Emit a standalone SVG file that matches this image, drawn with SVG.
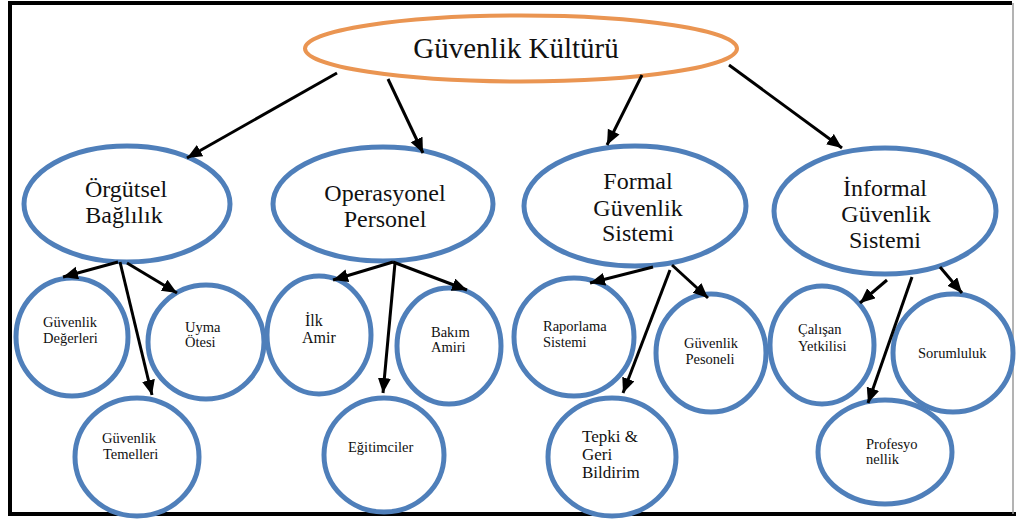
<svg xmlns="http://www.w3.org/2000/svg" width="1016" height="520" viewBox="0 0 1016 520">
  <style>
    .root { fill: #ffffff; stroke: #EA9552; stroke-width: 4; }
    .node { fill: #ffffff; stroke: #4F7FBA; stroke-width: 5; }
    text { font-family: "Times New Roman", Times, "Liberation Serif", "Noto Serif", "DejaVu Serif", serif; fill: #111111; }
    .big { font-size: 24px; text-anchor: middle; }
    .small { font-size: 14.5px; }
    .mid { text-anchor: middle; }
    .arrow { stroke: #000000; stroke-width: 3; fill: none; marker-end: url(#head); }
    .frame { stroke: #000000; stroke-width: 4; fill: none; }
  </style>
  <defs>
    <marker id="head" markerUnits="userSpaceOnUse" markerWidth="16" markerHeight="14" refX="15" refY="6.5" orient="auto">
      <path d="M0,0 L15,6.5 L0,13 z" fill="#000000"/>
    </marker>
  </defs>

  <rect width="1016" height="520" fill="#ffffff"/>

  <!-- outer frame -->
  <g id="frame">
    <path class="frame" d="M1012,3 L10,3 L10,514 L1016,514"/>
    <line x1="1013" y1="3" x2="1013" y2="514" stroke="#9a9a9a" stroke-width="1.5"/>
  </g>

  <!-- root -->
  <g id="guvenlik-kulturu">
    <ellipse class="root" cx="521" cy="48.5" rx="216" ry="33"/>
    <text class="mid" x="516" y="58" font-size="29">Güvenlik Kültürü</text>
  </g>

  <!-- second level -->
  <g id="orgutsel-baglilik">
    <ellipse class="node" cx="127" cy="204" rx="103" ry="58"/>
    <text class="big" x="126" y="197">Örgütsel</text>
    <text class="big" x="124" y="223">Bağlılık</text>
  </g>
  <g id="operasyonel-personel">
    <ellipse class="node" cx="383" cy="204" rx="110" ry="57"/>
    <text class="big" x="385" y="201">Operasyonel</text>
    <text class="big" x="385" y="227">Personel</text>
  </g>
  <g id="formal-guvenlik-sistemi">
    <ellipse class="node" cx="635" cy="206" rx="111" ry="60"/>
    <text class="big" x="638" y="189">Formal</text>
    <text class="big" x="638" y="216">Güvenlik</text>
    <text class="big" x="638" y="241">Sistemi</text>
  </g>
  <g id="informal-guvenlik-sistemi">
    <ellipse class="node" cx="885" cy="211" rx="111" ry="63"/>
    <text class="big" x="885" y="196">İnformal</text>
    <text class="big" x="886" y="222">Güvenlik</text>
    <text class="big" x="885" y="248">Sistemi</text>
  </g>

  <!-- third level -->
  <g id="guvenlik-degerleri">
    <ellipse class="node" cx="72" cy="337" rx="56" ry="59"/>
    <text class="small" x="43" y="327">Güvenlik</text>
    <text class="small" x="43" y="343">Değerleri</text>
  </g>
  <g id="uyma-otesi">
    <ellipse class="node" cx="206" cy="342" rx="58" ry="57"/>
    <text class="small" x="185" y="332">Uyma</text>
    <text class="small" x="185" y="347">Ötesi</text>
  </g>
  <g id="guvenlik-temelleri">
    <ellipse class="node" cx="137" cy="457" rx="62" ry="59"/>
    <text class="small" x="102" y="443">Güvenlik</text>
    <text class="small" x="103" y="459">Temelleri</text>
  </g>
  <g id="ilk-amir">
    <ellipse class="node" cx="319" cy="335" rx="52" ry="59"/>
    <text x="305" y="326" font-size="16">İlk</text>
    <text x="302" y="343" font-size="16">Amir</text>
  </g>
  <g id="bakim-amiri">
    <ellipse class="node" cx="449" cy="346" rx="52" ry="58"/>
    <text class="small" x="431" y="337">Bakım</text>
    <text class="small" x="431" y="352">Amiri</text>
  </g>
  <g id="egitimciler">
    <ellipse class="node" cx="384" cy="455" rx="60" ry="57"/>
    <text class="small" x="348" y="452">Eğitimciler</text>
  </g>
  <g id="raporlama-sistemi">
    <ellipse class="node" cx="574" cy="337" rx="60" ry="59"/>
    <text class="small" x="543" y="331">Raporlama</text>
    <text class="small" x="543" y="347">Sistemi</text>
  </g>
  <g id="guvenlik-pesoneli">
    <ellipse class="node" cx="711" cy="353" rx="55" ry="59"/>
    <text class="small mid" x="711" y="348">Güvenlik</text>
    <text class="small mid" x="710" y="364">Pesoneli</text>
  </g>
  <g id="tepki-geri-bildirim">
    <ellipse class="node" cx="612" cy="457" rx="64" ry="59"/>
    <text x="582" y="442" font-size="17">Tepki &amp;</text>
    <text x="582" y="460" font-size="17">Geri</text>
    <text x="582" y="478" font-size="17">Bildirim</text>
  </g>
  <g id="calisan-yetkilisi">
    <ellipse class="node" cx="822" cy="345" rx="52" ry="59"/>
    <text class="small" x="798" y="334">Çalışan</text>
    <text class="small" x="798" y="351">Yetkilisi</text>
  </g>
  <g id="sorumluluk">
    <ellipse class="node" cx="953" cy="353" rx="60" ry="59"/>
    <text class="small" x="918" y="358">Sorumluluk</text>
  </g>
  <g id="profesyonellik">
    <ellipse class="node" cx="885" cy="452" rx="67" ry="52"/>
    <text class="small" x="866" y="449">Profesyo</text>
    <text class="small" x="866" y="464">nellik</text>
  </g>

  <!-- connectors -->
  <g id="connectors">
    <line class="arrow" x1="337" y1="73" x2="187" y2="158"/>
    <line class="arrow" x1="388" y1="79" x2="423" y2="153"/>
    <line class="arrow" x1="642" y1="75" x2="607" y2="145"/>
    <line class="arrow" x1="729" y1="65" x2="842" y2="148"/>

    <line class="arrow" x1="118" y1="262" x2="63" y2="277"/>
    <line class="arrow" x1="127" y1="263" x2="177" y2="293" stroke-width="2"/>
    <line class="arrow" x1="120" y1="262" x2="152" y2="395"/>

    <line class="arrow" x1="393" y1="262" x2="333" y2="280"/>
    <line class="arrow" x1="393" y1="262" x2="467" y2="290"/>
    <line class="arrow" x1="395" y1="263" x2="383" y2="393"/>

    <line class="arrow" x1="653" y1="267" x2="590" y2="283"/>
    <line class="arrow" x1="672" y1="265" x2="708" y2="298"/>
    <line class="arrow" x1="670" y1="270" x2="623" y2="393"/>

    <line class="arrow" x1="887" y1="280" x2="860" y2="303"/>
    <line class="arrow" x1="912" y1="277" x2="868" y2="403"/>
    <line class="arrow" x1="940" y1="267" x2="962" y2="293"/>
  </g>
</svg>
